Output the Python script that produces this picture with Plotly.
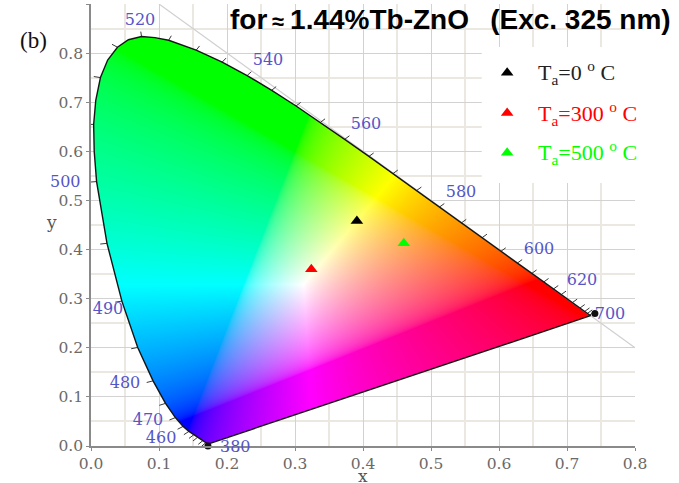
import numpy as np
import plotly.graph_objects as go

# Spectral locus: wavelength (nm), x, y
wavelengths = [380,400,410,420,430,440,450,455,460,465,470,475,480,485,490,495,500,502.5,505,507.5,510,512.5,515,517.5,520,522.5,525,530,535,540,545,550,555,560,565,570,575,580,585,590,595,600,605,610,615,620,630,640,650,660,680,700]
locus_x = [.1741,.1733,.1726,.1714,.1689,.1644,.1566,.1510,.1440,.1355,.1241,.1096,.0913,.0687,.0454,.0235,.0082,.0047,.0039,.0070,.0139,.0245,.0389,.0550,.0743,.0940,.1142,.1547,.1929,.2296,.2658,.3016,.3373,.3731,.4087,.4441,.4788,.5125,.5448,.5752,.6029,.6270,.6482,.6658,.6801,.6915,.7079,.7190,.7260,.7300,.7334,.7347]
locus_y = [.0050,.0048,.0048,.0051,.0069,.0109,.0177,.0227,.0297,.0399,.0578,.0868,.1327,.2007,.2950,.4127,.5384,.6000,.6548,.7040,.7502,.7860,.8120,.8272,.8338,.8315,.8262,.8059,.7816,.7543,.7243,.6923,.6589,.6245,.5896,.5547,.5202,.4866,.4544,.4242,.3965,.3725,.3514,.3340,.3197,.3083,.2920,.2809,.2740,.2700,.2666,.2653]

# Wavelength labels inside the axis ranges
label_text = ["520","540","560","580","600","620","700","490","480","470","460"]
label_x = [.0721,.2603,.4044,.5441,.6588,.7221,.7632,.0250,.05,.0838,.103]
label_y = [.8655,.7841,.6538,.5153,.3992,.3360,.2668,.2770,.1263,.0509,.0143]
# Wavelength labels that sit just beyond the axes (Plotly hides out-of-range text points)
outer_label_text = ["500","380"]
outer_label_x = [-.0382,.2118]
outer_label_y = [.5377,-.0020]

end_blob_x = [.172,.741]
end_blob_y = [0,.270]

sample_names = ["T<sub>a</sub>=0 <sup>o</sup> C","T<sub>a</sub>=300 <sup>o</sup> C","T<sub>a</sub>=500 <sup>o</sup> C"]
sample_x = [.391,.324,.460]
sample_y = [.458,.360,.413]
sample_colors = ["#000000","#ff0000","#00ff00"]
legend_marker_x = [.612,.612,.612]
legend_marker_y = [.760,.678,.597]
legend_text_x = .654

TITLE = "for<span style='font-size:22px'>\u2009\u2248\u2009\u200a</span>1.44%Tb-ZnO\u00a0\u00a0\u2009(Exc. 325 nm)"

XMAX = .8
YMAX = .9

# Colour field inside the locus (xy -> sRGB, normalised, clipped)
PX = 544
PY = 442
dx = XMAX / PX
dy = YMAX / PY
gx, gy = np.meshgrid((np.arange(PX) + .5) * dx, (np.arange(PY) + .5) * dy)
Y = np.maximum(gy, 1e-4)
X = gx / Y
Z = (1 - gx - gy) / Y
M = np.array([[3.2406,-1.5372,-.4986],[-.9689,1.8758,.0415],[.0557,-.2040,1.0570]])
lin = np.stack([M[i,0]*X + M[i,1] + M[i,2]*Z for i in range(3)], axis=-1)
lin = np.clip(lin, 0, None)
lin = lin / np.maximum(lin.max(axis=-1, keepdims=True), 1e-6)
srgb = np.where(lin <= .0031308, 12.92*lin, 1.055*lin**(1/2.4) - .055)
# point-in-polygon mask
poly_x = np.array(locus_x)
poly_y = np.array(locus_y)
inside = np.zeros(gx.shape, bool)
n = len(poly_x)
for i in range(n):
    j = (i - 1) % n
    c = ((poly_y[i] > gy) != (poly_y[j] > gy))
    with np.errstate(divide="ignore", invalid="ignore"):
        xc = (poly_x[j]-poly_x[i]) * (gy-poly_y[i]) / (poly_y[j]-poly_y[i]) + poly_x[i]
    inside ^= c & (gx < xc)
rgba = np.dstack([np.round(srgb*255), inside*255.0]).astype(int)

# Outward tick marks along the locus
tick_x, tick_y = [], []
L = .010
for i in range(1, n-1):
    if wavelengths[i] != int(wavelengths[i]):
        continue
    tx = poly_x[i+1]-poly_x[i-1]
    ty = poly_y[i+1]-poly_y[i-1]
    norm = np.hypot(tx, ty) or 1
    nx, ny = -ty/norm, tx/norm
    tick_x += [poly_x[i], poly_x[i]+nx*L, None]
    tick_y += [poly_y[i], poly_y[i]+ny*L, None]

LABEL_FONT = dict(family="DejaVu Serif", size=16, color="#5555c8")
AXIS_TITLE_FONT = dict(family="DejaVu Serif", size=17, color="#555555")

fig = go.Figure()
fig.add_trace(go.Image(z=rgba.tolist(), colormodel="rgba", x0=dx/2, dx=dx, y0=dy/2, dy=dy, hoverinfo="skip"))
fig.add_trace(go.Scatter(x=[.1,.8], y=[.9,.2], mode="lines", line=dict(color="#d0d0d0", width=1.2), hoverinfo="skip"))
fig.add_trace(go.Scatter(x=tick_x, y=tick_y, mode="lines", line=dict(color="#3a3a3a", width=1), hoverinfo="skip"))
fig.add_trace(go.Scatter(x=locus_x+[locus_x[0]], y=locus_y+[locus_y[0]], mode="lines", line=dict(color="#151515", width=1.4), hoverinfo="skip"))
fig.add_trace(go.Scatter(x=end_blob_x, y=end_blob_y, mode="markers", marker=dict(symbol="circle", size=7, color="#111111"), cliponaxis=False, hoverinfo="skip"))
fig.add_trace(go.Scatter(x=label_x, y=label_y, mode="text", text=label_text, textposition="middle center",
                         textfont=LABEL_FONT, cliponaxis=False, hoverinfo="skip"))
fig.add_trace(go.Scatter(x=sample_x, y=sample_y, mode="markers",
                         marker=dict(symbol="triangle-up", size=11, color=sample_colors), hoverinfo="skip"))
fig.add_trace(go.Scatter(x=legend_marker_x, y=legend_marker_y, mode="markers",
                         marker=dict(symbol="triangle-up", size=11, color=sample_colors), hoverinfo="skip"))

annotations = [dict(x=legend_text_x, y=my, xref="x", yref="y", text=t, showarrow=False, xanchor="left", yanchor="middle",
                    font=dict(family="Liberation Serif", size=22, color=c))
               for t, my, c in zip(sample_names, legend_marker_y, ["#222222","#ff0000","#00ff00"])]
annotations += [dict(x=vx/XMAX, y=vy/YMAX, xref="paper", yref="paper", text=t, showarrow=False,
                     xanchor="center", yanchor="middle", font=LABEL_FONT)
                for t, vx, vy in zip(outer_label_text, outer_label_x, outer_label_y)]
annotations.append(dict(x=(228-91)/544, y=(446-20)/442, xref="paper", yref="paper", text=TITLE, showarrow=False,
                        xanchor="left", yanchor="middle",
                        font=dict(family="Liberation Sans", size=28, color="#000000", weight="bold")))
annotations.append(dict(x=(33-91)/544, y=(446-40)/442, xref="paper", yref="paper", text="(b)", showarrow=False,
                        xanchor="center", yanchor="middle", font=dict(family="Liberation Serif", size=23, color="#111111")))
annotations.append(dict(x=.5, y=(446-476)/442, xref="paper", yref="paper", text="x", showarrow=False,
                        xanchor="center", yanchor="middle", font=AXIS_TITLE_FONT))
annotations.append(dict(x=(51-91)/544, y=(446-222)/442, xref="paper", yref="paper", text="y", showarrow=False,
                        xanchor="center", yanchor="middle", font=AXIS_TITLE_FONT))

fig.update_layout(
    width=679, height=483, margin=dict(l=91, r=44, t=4, b=37, autoexpand=False),
    paper_bgcolor="#ffffff", plot_bgcolor="#ffffff", showlegend=False,
    annotations=annotations,
    shapes=[dict(type="rect", xref="x", yref="y", x0=.5746, x1=.81, y0=.5356, y1=.8126,
                 fillcolor="#ffffff", line=dict(width=0), layer="between")],
)
axis_common = dict(
    showline=True, linecolor="#8a8a8a", linewidth=1.5, ticks="outside", ticklen=3, tickcolor="#8a8a8a",
    gridcolor="#d2d2d2", gridwidth=1, zeroline=False, tickformat=".1f", dtick=.1,
    minor=dict(dtick=.05, showgrid=True, gridcolor="#ebe8e2", gridwidth=1.5),
    tickfont=dict(family="DejaVu Serif", size=15.5, color="#6a6a6a"),
)
fig.update_xaxes(range=[0,XMAX], constrain="range", **axis_common)
fig.update_yaxes(range=[0,YMAX], scaleanchor=False, constrain="range", **axis_common)

fig.write_html("out.html", config=dict(displayModeBar=False), post_script="document.body.style.margin='0';document.body.style.overflow='hidden';")
